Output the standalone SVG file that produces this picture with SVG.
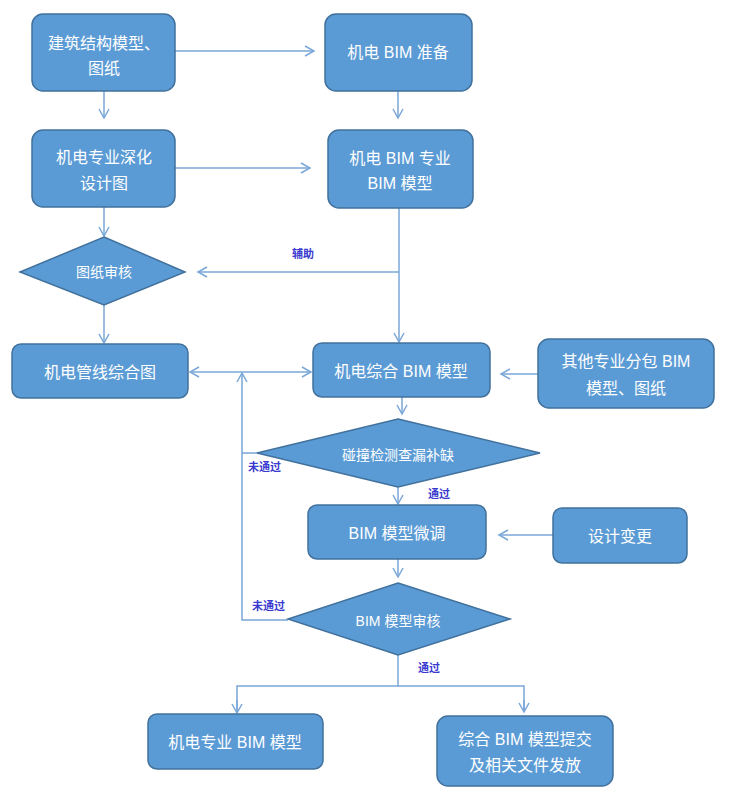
<svg xmlns="http://www.w3.org/2000/svg" width="730" height="798" viewBox="0 0 730 798">
<defs>
<marker id="arr" markerWidth="14" markerHeight="14" refX="10" refY="6" orient="auto" markerUnits="userSpaceOnUse">
<path d="M1,1 L10,6 L1,11" fill="none" stroke="#7aa7d8" stroke-width="1.5"/>
</marker>
<marker id="arrs" markerWidth="14" markerHeight="14" refX="1" refY="6" orient="auto" markerUnits="userSpaceOnUse">
<path d="M10,1 L1,6 L10,11" fill="none" stroke="#7aa7d8" stroke-width="1.5"/>
</marker>
</defs>
<style>
.box{fill:#5b9bd5;stroke:#41719c;stroke-width:1.5}
.t{fill:#fff;font-family:"Liberation Sans","Noto Sans CJK SC",sans-serif;font-size:16px;text-anchor:middle;dominant-baseline:central}
.ts{font-size:14px}
.c{fill:none;stroke:#7aa7d8;stroke-width:1.5}
.lbl{fill:#3a3ad0;font-family:"Liberation Sans","Noto Sans CJK SC",sans-serif;font-size:11px;font-weight:bold;dominant-baseline:central}
</style>
<rect width="730" height="798" fill="#fff"/>
<g id="connectors">
<line class="c" x1="175" y1="51" x2="314" y2="51" marker-end="url(#arr)"/>
<line class="c" x1="175" y1="168" x2="310" y2="168" marker-end="url(#arr)"/>
<line class="c" x1="104" y1="91" x2="104" y2="118" marker-end="url(#arr)"/>
<line class="c" x1="398" y1="91" x2="398" y2="118" marker-end="url(#arr)"/>
<line class="c" x1="104" y1="207" x2="104" y2="236" marker-end="url(#arr)"/>
<line class="c" x1="399" y1="208" x2="399" y2="342" marker-end="url(#arr)"/>
<line class="c" x1="399" y1="272" x2="198" y2="272" marker-end="url(#arr)"/>
<text class="lbl" x="292" y="254">辅助</text>
<line class="c" x1="104" y1="305" x2="104" y2="343" marker-end="url(#arr)"/>
<line class="c" x1="190" y1="372" x2="311" y2="372" marker-start="url(#arrs)" marker-end="url(#arr)"/>
<line class="c" x1="538" y1="374" x2="501" y2="374" marker-end="url(#arr)"/>
<line class="c" x1="402" y1="397" x2="402" y2="414" marker-end="url(#arr)"/>
<polyline class="c" points="257,453 242,453 242,373" marker-end="url(#arr)"/>
<polyline class="c" points="288,620 242,620 242,453"/>
<text class="lbl" x="248" y="467">未通过</text>
<line class="c" x1="398" y1="487" x2="398" y2="504" marker-end="url(#arr)"/>
<text class="lbl" x="428" y="494">通过</text>
<line class="c" x1="553" y1="535" x2="499" y2="535" marker-end="url(#arr)"/>
<line class="c" x1="398" y1="559" x2="398" y2="577" marker-end="url(#arr)"/>
<text class="lbl" x="252" y="606">未通过</text>
<polyline class="c" points="398,655 398,686"/>
<text class="lbl" x="418" y="668">通过</text>
<polyline class="c" points="237,713 237,686 524,686 524,711" />
<line class="c" x1="237" y1="700" x2="237" y2="713" marker-end="url(#arr)"/>
<line class="c" x1="524" y1="700" x2="524" y2="712" marker-end="url(#arr)"/>
</g>
<g id="n1"><rect class="box" x="32" y="14" width="143" height="77" rx="11"/><text class="t" x="104" y="43">建筑结构模型、</text><text class="t" x="104" y="68">图纸</text></g>
<g id="n2"><rect class="box" x="325" y="14" width="147" height="77" rx="11"/><text class="t" x="398" y="52">机电 BIM 准备</text></g>
<g id="n3"><rect class="box" x="32" y="130" width="143" height="77" rx="11"/><text class="t" x="104" y="157">机电专业深化</text><text class="t" x="104" y="183">设计图</text></g>
<g id="n4"><rect class="box" x="328" y="130" width="145" height="78" rx="11"/><text class="t" x="400" y="158">机电 BIM 专业</text><text class="t" x="400" y="183">BIM 模型</text></g>
<g id="d1"><polygon class="box" points="104,237 185,272 104,305 20,272"/><text class="t ts" x="104" y="272">图纸审核</text></g>
<g id="n5"><rect class="box" x="12" y="344" width="176" height="54" rx="9"/><text class="t" x="100" y="372">机电管线综合图</text></g>
<g id="n6"><rect class="box" x="313" y="343" width="177" height="54" rx="9"/><text class="t" x="401" y="371">机电综合 BIM 模型</text></g>
<g id="n7"><rect class="box" x="538" y="339" width="176" height="69" rx="11"/><text class="t" x="626" y="361">其他专业分包 BIM</text><text class="t" x="626" y="388">模型、图纸</text></g>
<g id="d2"><polygon class="box" points="398,419 540,453 398,487 257,453"/><text class="t ts" x="398" y="455">碰撞检测查漏补缺</text></g>
<g id="n8"><rect class="box" x="308" y="505" width="178" height="54" rx="9"/><text class="t" x="397" y="533">BIM 模型微调</text></g>
<g id="n9"><rect class="box" x="553" y="508" width="134" height="55" rx="9"/><text class="t" x="620" y="536">设计变更</text></g>
<g id="d3"><polygon class="box" points="398,583 510,619 398,655 288,619"/><text class="t ts" x="398" y="621">BIM 模型审核</text></g>
<g id="n10"><rect class="box" x="148" y="714" width="175" height="55" rx="9"/><text class="t" x="235" y="742">机电专业 BIM 模型</text></g>
<g id="n11"><rect class="box" x="437" y="716" width="176" height="70" rx="11"/><text class="t" x="525" y="739">综合 BIM 模型提交</text><text class="t" x="525" y="765">及相关文件发放</text></g>
</svg>
